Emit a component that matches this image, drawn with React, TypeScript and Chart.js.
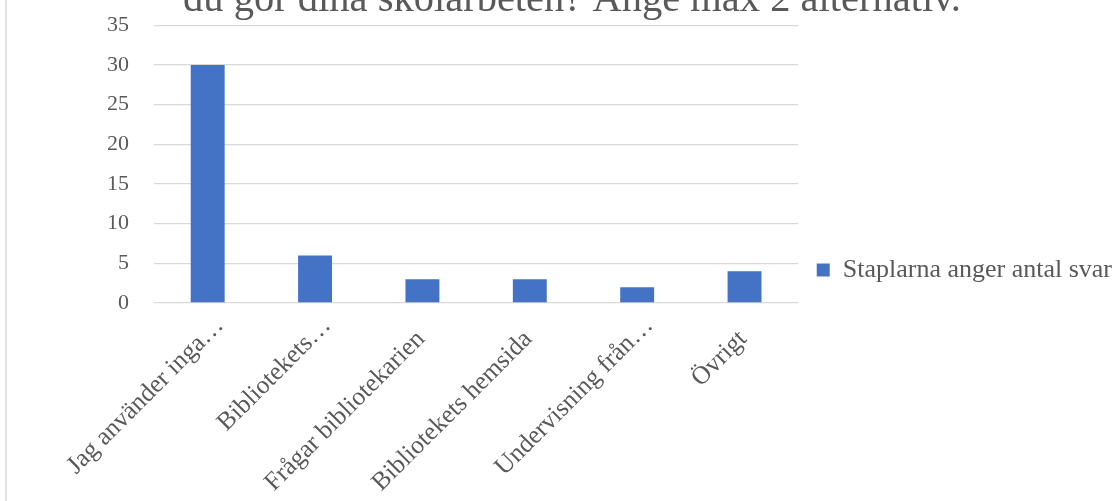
import React, { useEffect, useRef } from "react";
import { Chart, registerables } from "chart.js";

Chart.register(...registerables);

const titleText = "du gör dina skolarbeten? Ange max 2 alternativ.";
const categories = [
  "Jag använder inga…",
  "Bibliotekets…",
  "Frågar bibliotekarien",
  "Bibliotekets hemsida",
  "Undervisning från…",
  "Övrigt",
];
const seriesLabel = "Staplarna anger antal svar";
const seriesValues = [30, 6, 3, 3, 2, 4];
const yMin = 0;
const yMax = 35;
const yStep = 5;

const FONT = "'Liberation Serif', 'Times New Roman', serif";
const TEXT = "#595959";
const GRID = "#d9d9d9";
const BAR = "#4472C4";

export default function App() {
  const ref = useRef<HTMLCanvasElement | null>(null);

  useEffect(() => {
    if (!ref.current) return;
    const chart = new Chart(ref.current, {
      type: "bar",
      data: {
        labels: categories,
        datasets: [
          {
            label: seriesLabel,
            data: seriesValues,
            backgroundColor: BAR,
            borderWidth: 0,
            barPercentage: 0.316,
            categoryPercentage: 1,
          },
        ],
      },
      options: {
        animation: false,
        responsive: false,
        layout: { padding: { left: 16, top: 0, right: 0, bottom: 0 } },
        plugins: {
          tooltip: { enabled: false },
          title: {
            display: true,
            text: titleText,
            color: TEXT,
            font: { family: FONT, size: 40.5, weight: "normal" },
            padding: { top: 0, bottom: 0.8 },
          },
          legend: {
            display: true,
            position: "right",
            align: "center",
            maxWidth: 500,
            labels: {
              boxWidth: 13,
              boxHeight: 13,
              padding: 18.5,
              color: TEXT,
              font: { family: FONT, size: 26 },
            },
          },
        },
        scales: {
          x: {
            grid: { display: false },
            border: { display: false },
            ticks: {
              color: TEXT,
              font: { family: FONT, size: 25.5 },
              minRotation: 45,
              maxRotation: 45,
              autoSkip: false,
              padding: 0,
              labelOffset: 12,
              callback: (_v: any, i: number) => {
                const t = categories[i];
                // untruncated labels sit a little further back along the slant
                return t.endsWith("…") ? t : t + "   ";
              },
            },
            afterFit: (scale: any) => {
              scale.height = 261;
            },
          },
          y: {
            min: yMin,
            max: yMax,
            grid: { color: GRID, lineWidth: 1.3, drawTicks: false },
            border: { display: false },
            ticks: {
              stepSize: yStep,
              color: TEXT,
              font: { family: FONT, size: 22 },
              padding: 25,
            },
            afterFit: (scale: any) => {
              scale.width = 132;
            },
          },
        },
      },
    });
    return () => chart.destroy();
  }, []);

  return (
    <div
      style={{
        position: "fixed",
        left: 0,
        top: 0,
        width: 1116,
        height: 501,
        overflow: "hidden",
        background: "#ffffff",
      }}
    >
      <div
        style={{
          position: "absolute",
          left: 5,
          top: 0,
          width: 2,
          height: 501,
          background: "#e2e2e2",
        }}
      />
      <canvas
        ref={ref}
        width={1116}
        height={588}
        style={{ position: "absolute", left: 6, top: -24, display: "block" }}
      />
    </div>
  );
}
